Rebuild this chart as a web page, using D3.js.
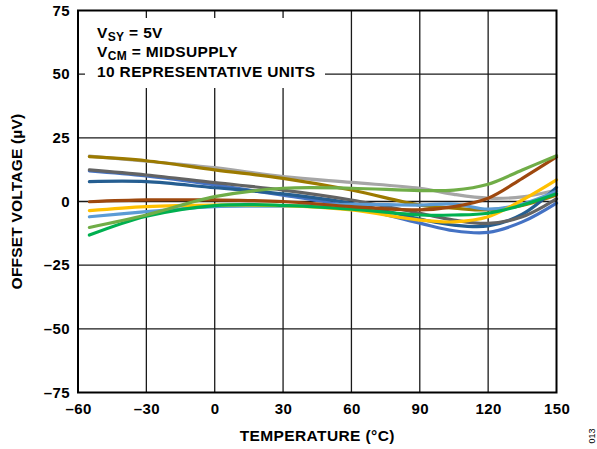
<!DOCTYPE html>
<html>
<head>
<meta charset="utf-8">
<script src="https://cdn.jsdelivr.net/npm/d3@7"></script>
<style>
  body { margin: 0; background: #fff; }
  text { font-family: "Liberation Sans", Arial, sans-serif; font-weight: bold; fill: #000; }
</style>
</head>
<body>
<div id="chart"></div>
<script>
// temperature points (°C) where each unit was read
var temps = [-55, -30, 0, 30, 60, 90, 105, 120, 135, 150];

// offset voltage per unit (µV)
var unitGold      = [17.6, 16.0, 12.4, 9.1, 4.5, -1.4, -2.6, -3.3, -1.5, 2.6];
var unitLightGray = [17.8, 15.8, 13.3, 9.8, 7.5, 5.2, 2.8, 1.3, 1.8, 4.5];
var unitDarkGray  = [12.4, 10.4, 7.4, 4.5, 0.6, -4.6, -7.3, -8.6, -6.0, 1.0];
var unitSteel     = [7.8, 7.8, 5.4, 3.0, -0.7, -6.9, -9.3, -9.6, -5.0, 5.5];
var unitBlue      = [12.0, 10.0, 6.5, 2.5, -2.0, -8.5, -11.5, -12.1, -8.0, -0.6];
var unitLightBlue = [-6.0, -4.0, -2.0, -1.8, -1.1, -1.4, -1.0, -3.0, -1.0, 4.0];
var unitBrown     = [-0.1, 0.6, 0.6, 0.0, -2.0, -3.3, -2.0, 1.3, 9.1, 17.5];
var unitYellow    = [-3.6, -2.0, -1.4, -1.6, -3.3, -7.3, -8.0, -6.0, 0.6, 8.5];
var unitLightGrn  = [-10.2, -5.3, 1.9, 5.2, 5.2, 4.3, 4.5, 6.8, 12.4, 18.0];
var unitGreen     = [-13.2, -5.8, -1.6, -1.5, -3.0, -5.3, -5.3, -4.6, -1.4, 3.0];

var series = [
  {color: "#a6a6a6", values: unitLightGray},
  {color: "#9c7a00", values: unitGold},
  {color: "#4472c4", values: unitBlue},
  {color: "#255e91", values: unitSteel},
  {color: "#636363", values: unitDarkGray},
  {color: "#5b9bd5", values: unitLightBlue},
  {color: "#ffc000", values: unitYellow},
  {color: "#00b050", values: unitGreen},
  {color: "#9e480e", values: unitBrown},
  {color: "#70ad47", values: unitLightGrn}
];

var xTicks = [-60, -30, 0, 30, 60, 90, 120, 150];
var yTicks = [-75, -50, -25, 0, 25, 50, 75];

var W = 597, H = 449;
var margin = {top: 10.5, right: 40.5, bottom: 56.5, left: 78};
var width = W - margin.left - margin.right,
    height = H - margin.top - margin.bottom;

var svg = d3.select("#chart").append("svg")
    .attr("width", W)
    .attr("height", H)
  .append("g")
    .attr("transform", "translate(" + margin.left + "," + margin.top + ")");

var x = d3.scaleLinear().domain([-60, 150]).range([0, width]);
var y = d3.scaleLinear().domain([-75, 75]).range([height, 0]);

function fmt(d) { return d < 0 ? "\u2013" + Math.abs(d) : "" + d; }

// grid
svg.append("g").selectAll("line.v")
  .data(xTicks.slice(1, -1))
  .enter().append("line")
    .attr("x1", d => x(d)).attr("x2", d => x(d))
    .attr("y1", 0).attr("y2", height)
    .attr("stroke", "#1a1a1a").attr("stroke-width", 1.3);

svg.append("g").selectAll("line.h")
  .data(yTicks.slice(1, -1))
  .enter().append("line")
    .attr("x1", 0).attr("x2", width)
    .attr("y1", d => y(d)).attr("y2", d => y(d))
    .attr("stroke", "#1a1a1a").attr("stroke-width", 1.3);

// white box behind the notes
svg.append("rect")
  .attr("x", 85 - margin.left).attr("y", 18 - margin.top)
  .attr("width", 240).attr("height", 70)
  .attr("fill", "#fff");

// curves
var line = d3.line()
  .x((d, i) => x(temps[i]))
  .y(d => y(d))
  .curve(d3.curveCatmullRom.alpha(0.5));

svg.append("g").selectAll("path")
  .data(series)
  .enter().append("path")
    .attr("d", d => line(d.values))
    .attr("fill", "none")
    .attr("stroke", d => d.color)
    .attr("stroke-width", 3.2)
    .attr("stroke-linecap", "round");

// frame
svg.append("rect")
  .attr("width", width).attr("height", height)
  .attr("fill", "none").attr("stroke", "#000").attr("stroke-width", 2);

// axes labels
var xAxis = d3.axisBottom(x).tickValues(xTicks).tickSize(0).tickPadding(11).tickFormat(fmt);
var yAxis = d3.axisLeft(y).tickValues(yTicks).tickSize(0).tickPadding(8).tickFormat(fmt);

svg.append("g").attr("transform", "translate(0," + height + ")").call(xAxis)
  .call(g => g.select(".domain").remove())
  .selectAll("text").style("font-size", "15px").style("letter-spacing", "0.4px").attr("fill", "#000");
svg.append("g").call(yAxis)
  .call(g => g.select(".domain").remove())
  .selectAll("text").style("font-size", "15px").style("letter-spacing", "0.4px").attr("fill", "#000");

svg.append("text")
  .attr("x", width / 2).attr("y", 441 - margin.top)
  .attr("text-anchor", "middle").style("font-size", "15.5px").style("letter-spacing", "0.4px")
  .text("TEMPERATURE (°C)");

svg.append("text")
  .attr("transform", "translate(" + (22 - margin.left) + "," + (height / 2) + ") rotate(-90)")
  .attr("text-anchor", "middle").style("font-size", "15.5px").style("letter-spacing", "0.2px")
  .text("OFFSET VOLTAGE (µV)");

// notes
var notes = svg.append("g").style("font-size", "15.5px").style("letter-spacing", "0.35px");
var t1 = notes.append("text").attr("x", 97 - margin.left).attr("y", 38 - margin.top);
t1.append("tspan").text("V");
t1.append("tspan").attr("dy", 3).style("font-size", "12px").text("SY");
t1.append("tspan").attr("dy", -3).text(" = 5V");
var t2 = notes.append("text").attr("x", 97 - margin.left).attr("y", 57 - margin.top);
t2.append("tspan").text("V");
t2.append("tspan").attr("dy", 3).style("font-size", "12px").text("CM");
t2.append("tspan").attr("dy", -3).text(" = MIDSUPPLY");
notes.append("text").attr("x", 97 - margin.left).attr("y", 77 - margin.top)
  .text("10 REPRESENTATIVE UNITS");

// figure number
svg.append("text")
  .attr("transform", "translate(" + (595 - margin.left) + "," + (436 - margin.top) + ") rotate(-90)")
  .attr("text-anchor", "middle")
  .style("font-size", "9px").style("font-weight", "normal")
  .text("013");
</script>
</body>
</html>
